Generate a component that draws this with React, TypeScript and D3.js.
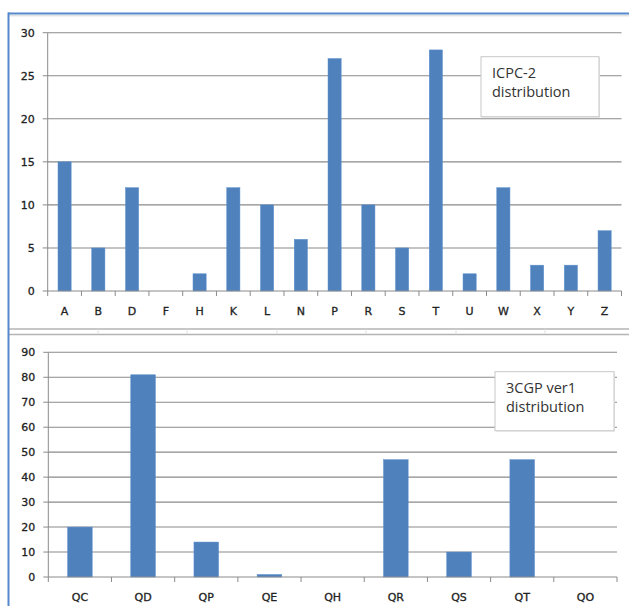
import React from "react";
import * as d3 from "d3";

const icpcCategories = ["A","B","D","F","H","K","L","N","P","R","S","T","U","W","X","Y","Z"];
const icpcValues = [15,5,12,0,2,12,10,6,27,10,5,28,2,12,3,3,7];
const icpcTicks = [0,5,10,15,20,25,30];
const icpcLegend = ["ICPC-2","distribution"];

const cgpCategories = ["QC","QD","QP","QE","QH","QR","QS","QT","QO"];
const cgpValues = [20,81,14,1,0,47,10,47,0];
const cgpTicks = [0,10,20,30,40,50,60,70,80,90];
const cgpLegend = ["3CGP ver1","distribution"];

const BAR = "#4F81BD";
const GRID = "#8a8a8a";
const AXIS_FONT = "'DejaVu Sans', Verdana, sans-serif";
const LEGEND_FONT = "'Open Sans', 'Noto Sans', sans-serif";

type PanelProps = {
  cats: string[];
  vals: number[];
  ticks: number[];
  legend: string[];
  x0: number; x1: number; y0: number; y1: number;
  labelY: number;
  box: { x: number; y: number; w: number; h: number };
};

function Panel({ cats, vals, ticks, legend, x0, x1, y0, y1, labelY, box }: PanelProps) {
  const x = d3.scaleBand<string>().domain(cats).range([x0, x1]).padding(0);
  const y = d3.scaleLinear().domain([0, ticks[ticks.length - 1]]).range([y0, y1]);
  const bw = x.bandwidth();
  const barW = bw * 0.39;
  const bounds = cats.map((c) => x(c) as number).concat([x1]);
  return (
    <g>
      {ticks.map((t) => (
        <g key={"g" + t}>
          {t > 0 && <line x1={x0} x2={x1} y1={y(t)} y2={y(t)} stroke={GRID} strokeWidth={1.1} />}
          <line x1={x0 - 5} x2={x0} y1={y(t)} y2={y(t)} stroke={GRID} strokeWidth={1} />
          <text x={x0 - 13} y={y(t)} dy="0.36em" textAnchor="end" fontFamily={AXIS_FONT} fontSize={11} fill="#222" stroke="#222" strokeWidth={0.3}>{t}</text>
        </g>
      ))}
      {cats.map((c, i) => (
        <rect key={c} x={(x(c) as number) + (bw - barW) / 2} y={y(vals[i])} width={barW} height={y0 - y(vals[i])} fill={BAR} stroke="#5b8fcc" strokeWidth={0.5} />
      ))}
      <line x1={x0} x2={x0} y1={y1} y2={y0} stroke={GRID} strokeWidth={1} />
      <line x1={x0} x2={x1} y1={y0} y2={y0} stroke={GRID} strokeWidth={1} />
      {bounds.map((b, i) => (
        <line key={"t" + i} x1={b} x2={b} y1={y0} y2={y0 + 5} stroke={GRID} strokeWidth={1} />
      ))}
      {cats.map((c) => (
        <text key={"l" + c} x={(x(c) as number) + bw / 2} y={labelY} textAnchor="middle" fontFamily={AXIS_FONT} fontSize={11} fill="#222" stroke="#222" strokeWidth={0.3}>{c}</text>
      ))}
      <rect x={box.x + 1} y={box.y + 1} width={box.w} height={box.h} fill="#e6e6e6" />
      <rect x={box.x} y={box.y} width={box.w} height={box.h} fill="#fff" stroke="#c8c8c8" strokeWidth={1} />
      {legend.map((s, i) => (
        <text key={"lg" + i} x={box.x + 11} y={box.y + 21 + i * 19} fontFamily={LEGEND_FONT} fontSize={14.5} fill="#333">{s}</text>
      ))}
    </g>
  );
}

export default function App() {
  return (
    <svg width={629} height={606} style={{ position: "absolute", left: 0, top: 0, background: "#fff" }}>
      <rect x={0} y={0} width={629} height={606} fill="#fff" />
      <line x1={8} x2={629} y1={15.8} y2={15.8} stroke="#d4d4d4" strokeWidth={1} />
      <line x1={8} x2={629} y1={329} y2={329} stroke="#b4b4b4" strokeWidth={1.5} />
      <line x1={8} x2={629} y1={334.5} y2={334.5} stroke="#b4b4b4" strokeWidth={1.5} />
      {[98, 187, 277, 366, 456, 545].map((v) => (
        <line key={"c" + v} x1={v} x2={v} y1={329} y2={334} stroke="#e0e0e0" strokeWidth={1} />
      ))}
      <line x1={8} x2={629} y1={13.5} y2={13.5} stroke="#5588cc" strokeWidth={2} />
      <line x1={8.5} x2={8.5} y1={12.5} y2={606} stroke="#5588cc" strokeWidth={2} />
      <Panel
        cats={icpcCategories}
        vals={icpcValues}
        ticks={icpcTicks}
        legend={icpcLegend}
        x0={47.7}
        x1={621.5}
        y0={291}
        y1={32.7}
        labelY={315}
        box={{ x: 481, y: 56.7, w: 118, h: 60 }}
      />
      <Panel
        cats={cgpCategories}
        vals={cgpValues}
        ticks={cgpTicks}
        legend={cgpLegend}
        x0={48.3}
        x1={617}
        y0={577}
        y1={352.3}
        labelY={601}
        box={{ x: 495, y: 371.7, w: 119, h: 59 }}
      />
    </svg>
  );
}
